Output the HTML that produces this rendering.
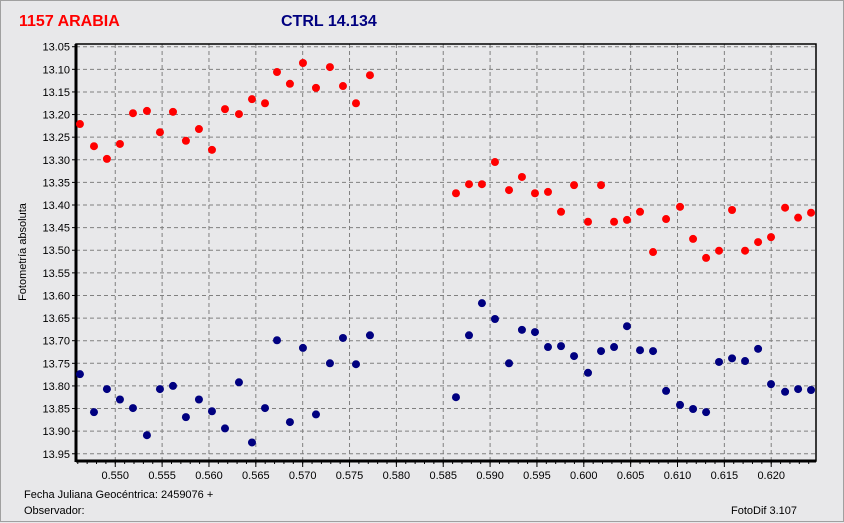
<!DOCTYPE html>
<html><head><meta charset="utf-8"><style>
body{margin:0;background:#e8e8ea;}
#wrap{position:relative;width:842px;height:520px;border:1px solid #a0a0a0;background:#e8e8ea;font-family:"Liberation Sans",sans-serif;}
svg{position:absolute;left:0;top:0}
</style></head><body>
<div id="wrap">
<svg id="chart" width="844" height="522">
<text x="18" y="25" font-size="16" font-weight="bold" fill="#ff0000">1157 ARABIA</text>
<text x="280" y="25" font-size="16" font-weight="bold" fill="#000080">CTRL 14.134</text>
<text transform="translate(25,251) rotate(-90)" text-anchor="middle" font-size="11" fill="#000">Fotometría absoluta</text>
<text x="23" y="497" font-size="11" fill="#000">Fecha Juliana Geocéntrica: 2459076 +</text>
<text x="23" y="513" font-size="11" fill="#000">Observador:</text>
<text x="730" y="513" font-size="11" fill="#000">FotoDif 3.107</text>
<g id="grid"></g><g id="axes"></g><g id="marks"></g>
</svg>
</div>
<script>
const redX=[0.54623,0.54773,0.54911,0.55050,0.55189,0.55338,0.55477,0.55616,0.55754,0.55893,0.56032,0.56171,0.56320,0.56459,0.56598,0.56726,0.56864,0.57003,0.57142,0.57291,0.57430,0.57569,0.57718,0.58636,0.58775,0.58913,0.59052,0.59202,0.59340,0.59479,0.59618,0.59757,0.59896,0.60045,0.60184,0.60323,0.60461,0.60600,0.60739,0.60878,0.61027,0.61166,0.61305,0.61443,0.61582,0.61721,0.61860,0.61998,0.62148,0.62287,0.62425];
const redY=[13.221,13.270,13.298,13.265,13.197,13.192,13.239,13.194,13.258,13.232,13.278,13.188,13.199,13.166,13.175,13.106,13.132,13.086,13.141,13.095,13.137,13.175,13.113,13.374,13.354,13.354,13.305,13.367,13.338,13.374,13.371,13.415,13.356,13.437,13.356,13.437,13.433,13.415,13.504,13.431,13.404,13.475,13.517,13.501,13.411,13.501,13.482,13.471,13.406,13.428,13.417];
const blueX=redX;
const blueY=[13.774,13.858,13.807,13.830,13.849,13.909,13.807,13.800,13.869,13.830,13.856,13.894,13.792,13.925,13.849,13.699,13.880,13.716,13.863,13.750,13.694,13.752,13.688,13.825,13.688,13.617,13.652,13.750,13.676,13.681,13.714,13.712,13.734,13.771,13.723,13.714,13.668,13.721,13.723,13.811,13.842,13.851,13.858,13.747,13.739,13.745,13.718,13.796,13.813,13.807,13.809];
const yTicks=["13.05","13.10","13.15","13.20","13.25","13.30","13.35","13.40","13.45","13.50","13.55","13.60","13.65","13.70","13.75","13.80","13.85","13.90","13.95"];
const xTicks=["0.550","0.555","0.560","0.565","0.570","0.575","0.580","0.585","0.590","0.595","0.600","0.605","0.610","0.615","0.620"];
const L=75,R=815,T=43,B=460;
const xMin=0.54581,xMax=0.62478,yMin=13.044,yMax=13.966;
const sx=v=>L+(v-xMin)/(xMax-xMin)*(R-L);
const sy=v=>T+(v-yMin)/(yMax-yMin)*(B-T);
const NS="http://www.w3.org/2000/svg";
function mk(tag,parent,attrs){const e=document.createElementNS(NS,tag);for(const k in attrs)e.setAttribute(k,attrs[k]);parent.appendChild(e);return e;}
const grid=document.getElementById('grid'),axes=document.getElementById('axes'),marks=document.getElementById('marks');
yTicks.forEach(t=>{const y=sy(+t);
 const g=mk('line',grid,{x1:L,x2:R,y1:y,y2:y,stroke:'#808080','stroke-dasharray':'4,3'});
 
 
 mk('line',axes,{x1:L-4,x2:L,y1:y,y2:y,stroke:'#000'});
 const tx=mk('text',axes,{x:L-6,y:y+4,'text-anchor':'end','font-size':11,fill:'#000'});tx.textContent=t;
 
 
});
for(let v=0.546;v<0.6248;v+=0.001){const x=sx(v);mk('line',axes,{x1:x,x2:x,y1:B,y2:B+3,stroke:'#000'});}
xTicks.forEach(t=>{const x=sx(+t);
 const g=mk('line',grid,{x1:x,x2:x,y1:T,y2:B,stroke:'#808080','stroke-dasharray':'4,3'});
 
 
 mk('line',axes,{x1:x,x2:x,y1:B,y2:B+6,stroke:'#000'});
 const tx=mk('text',axes,{x:x,y:B+18,'text-anchor':'middle','font-size':11,fill:'#000'});tx.textContent=t;
 
 
});
const fr=mk('rect',axes,{x:L,y:T,width:R-L,height:B-T,fill:'none',stroke:'#000','stroke-width':1.5});


mk('line',axes,{x1:L,x2:L,y1:T,y2:B+1,stroke:'#000','stroke-width':3});
mk('line',axes,{x1:L,x2:R,y1:B,y2:B,stroke:'#000','stroke-width':3});
redX.forEach((x,i)=>{const c=mk('circle',marks,{cx:sx(x),cy:sy(redY[i]),r:4,fill:'#ff0000'});
 
 });
blueX.forEach((x,i)=>{const c=mk('circle',marks,{cx:sx(x),cy:sy(blueY[i]),r:4,fill:'#000080'});
 
 });
</script>
</body></html>
